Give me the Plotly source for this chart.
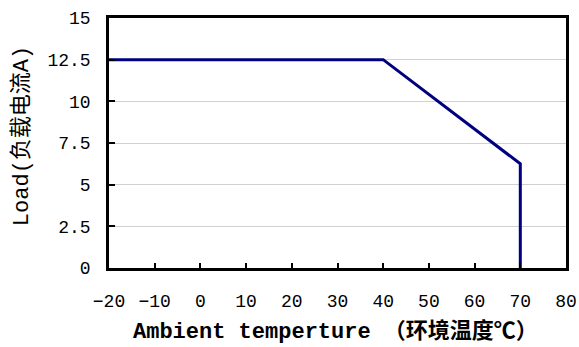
import plotly.graph_objects as go

temps = [-20, 40, 70, 70]
load = [12.5, 12.5, 6.25, 0]
x_ticks = [-20, -10, 0, 10, 20, 30, 40, 50, 60, 70, 80]
y_ticks = [0, 2.5, 5, 7.5, 10, 12.5, 15]
y_tick_text = ["0", "2.5", "5", "7.5", "10", "12.5", "15"]
x_title = "<b>Ambient temperture （环境温度℃）</b>"
y_title = "Load(负载电流A)"

FONT = "Liberation Mono, Noto Sans CJK SC, monospace"

fig = go.Figure()
fig.add_trace(go.Scatter(x=temps, y=load, mode="lines",
                         line=dict(color="#00007f", width=3),
                         showlegend=False, hoverinfo="skip", cliponaxis=False))

fig.update_layout(
    width=579, height=347,
    margin=dict(l=109, r=13, t=18, b=79),
    paper_bgcolor="white", plot_bgcolor="white",
    font=dict(family=FONT, color="black"),
)
fig.update_xaxes(
    range=[-20, 80], tickvals=x_ticks, ticks="inside", ticklen=5, tickwidth=1.5,
    tickcolor="black", showline=True, linecolor="black", linewidth=2.5,
    mirror=True, showgrid=False, zeroline=False, automargin=False,
    tickfont=dict(size=18, family=FONT, color="black"),
    ticklabelstandoff=15,
)
fig.update_yaxes(
    range=[0, 15], tickvals=y_ticks, ticktext=y_tick_text, ticks="inside",
    ticklen=6, tickwidth=1.5, tickcolor="black",
    showline=True, linecolor="black", linewidth=2.5, mirror=True,
    showgrid=True, gridcolor="#d0d0d0", gridwidth=1, zeroline=False,
    automargin=False,
    tickfont=dict(size=18, family=FONT, color="black"),
    ticklabelstandoff=12,
)
fig.add_annotation(text=x_title, xref="paper", yref="paper", x=0.495, y=-0.255,
                   showarrow=False, xanchor="center", yanchor="middle",
                   font=dict(size=22, family=FONT, color="black"))
fig.add_annotation(text=y_title, xref="paper", yref="paper", x=-0.19, y=0.528,
                   showarrow=False, xanchor="center", yanchor="middle", textangle=-90,
                   font=dict(size=22, family=FONT, color="black"))

fig.write_html("out.html")
